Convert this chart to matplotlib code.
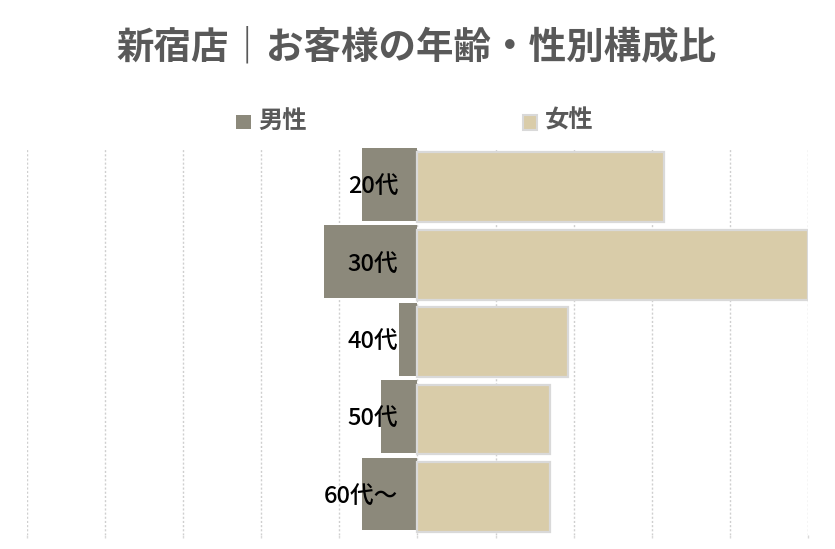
import matplotlib
matplotlib.use("Agg")
import matplotlib.pyplot as plt
from matplotlib.patches import Rectangle
import numpy as np

plt.rcParams['font.family'] = ['Noto Sans CJK JP', 'DejaVu Sans']

title = "新宿店｜お客様の年齢・性別構成比"
categories = ["20代", "30代", "40代", "50代", "60代〜"]
male = [4.3, 7.2, 1.4, 2.8, 4.3]
female = [18.9, 30.0, 11.6, 10.2, 10.2]
series_names = ["男性", "女性"]
x_ticks = [-30, -24, -18, -12, -6, 0, 6, 12, 18, 24, 30]

male_color = "#8c897b"
female_color = "#d9cca9"
edge_gray = "#d9d9d9"
text_gray = "#595959"

W, H = 835, 549
fig = plt.figure(figsize=(W / 100, H / 100), dpi=100)
ax = fig.add_axes([27 / W, 1 - 535 / H, (808 - 27) / W, (535 - 148) / H])

n = len(categories)
ypos = np.arange(n)
ax.barh(ypos + 0.47, [-v for v in male], height=0.94, color=male_color,
        edgecolor="none", zorder=2)
ax.barh(ypos + 0.508, female, height=0.9, color=female_color,
        edgecolor=edge_gray, linewidth=1.6, zorder=2)

for i, c in enumerate(categories):
    ax.text(-1.46, i + 0.5, c, ha="right", va="center", fontsize=17,
            fontweight="medium", color="black", zorder=3)

ax.set_xlim(-30, 30)
ax.set_ylim(n, 0)
ax.set_xticks(x_ticks)
ax.set_xticklabels([])
ax.set_yticks([])
ax.tick_params(axis="x", length=2, color=edge_gray, width=1)
ax.grid(axis="x", color="#cfcfcf", linestyle=(0, (1.5, 1.5)), linewidth=1)
ax.set_axisbelow(True)
for s in ax.spines.values():
    s.set_visible(False)

fig.text(416.5 / W, 1 - 47 / H, title, ha="center", va="center",
         fontsize=27, fontweight="bold", color=text_gray)

# legend
fig.patches.append(Rectangle((236 / W, 1 - 129 / H), 15 / W, 14 / H,
                             transform=fig.transFigure, facecolor=male_color,
                             edgecolor="none"))
fig.text(258 / W, 1 - 121 / H, series_names[0], ha="left", va="center",
         fontsize=17.5, fontweight="bold", color=text_gray)
fig.patches.append(Rectangle((523 / W, 1 - 130 / H), 14 / W, 15 / H,
                             transform=fig.transFigure, facecolor=female_color,
                             edgecolor=edge_gray, linewidth=1.5))
fig.text(545 / W, 1 - 121 / H, series_names[1], ha="left", va="center",
         fontsize=17.5, fontweight="bold", color=text_gray)

fig.savefig("out.png", dpi=100)
